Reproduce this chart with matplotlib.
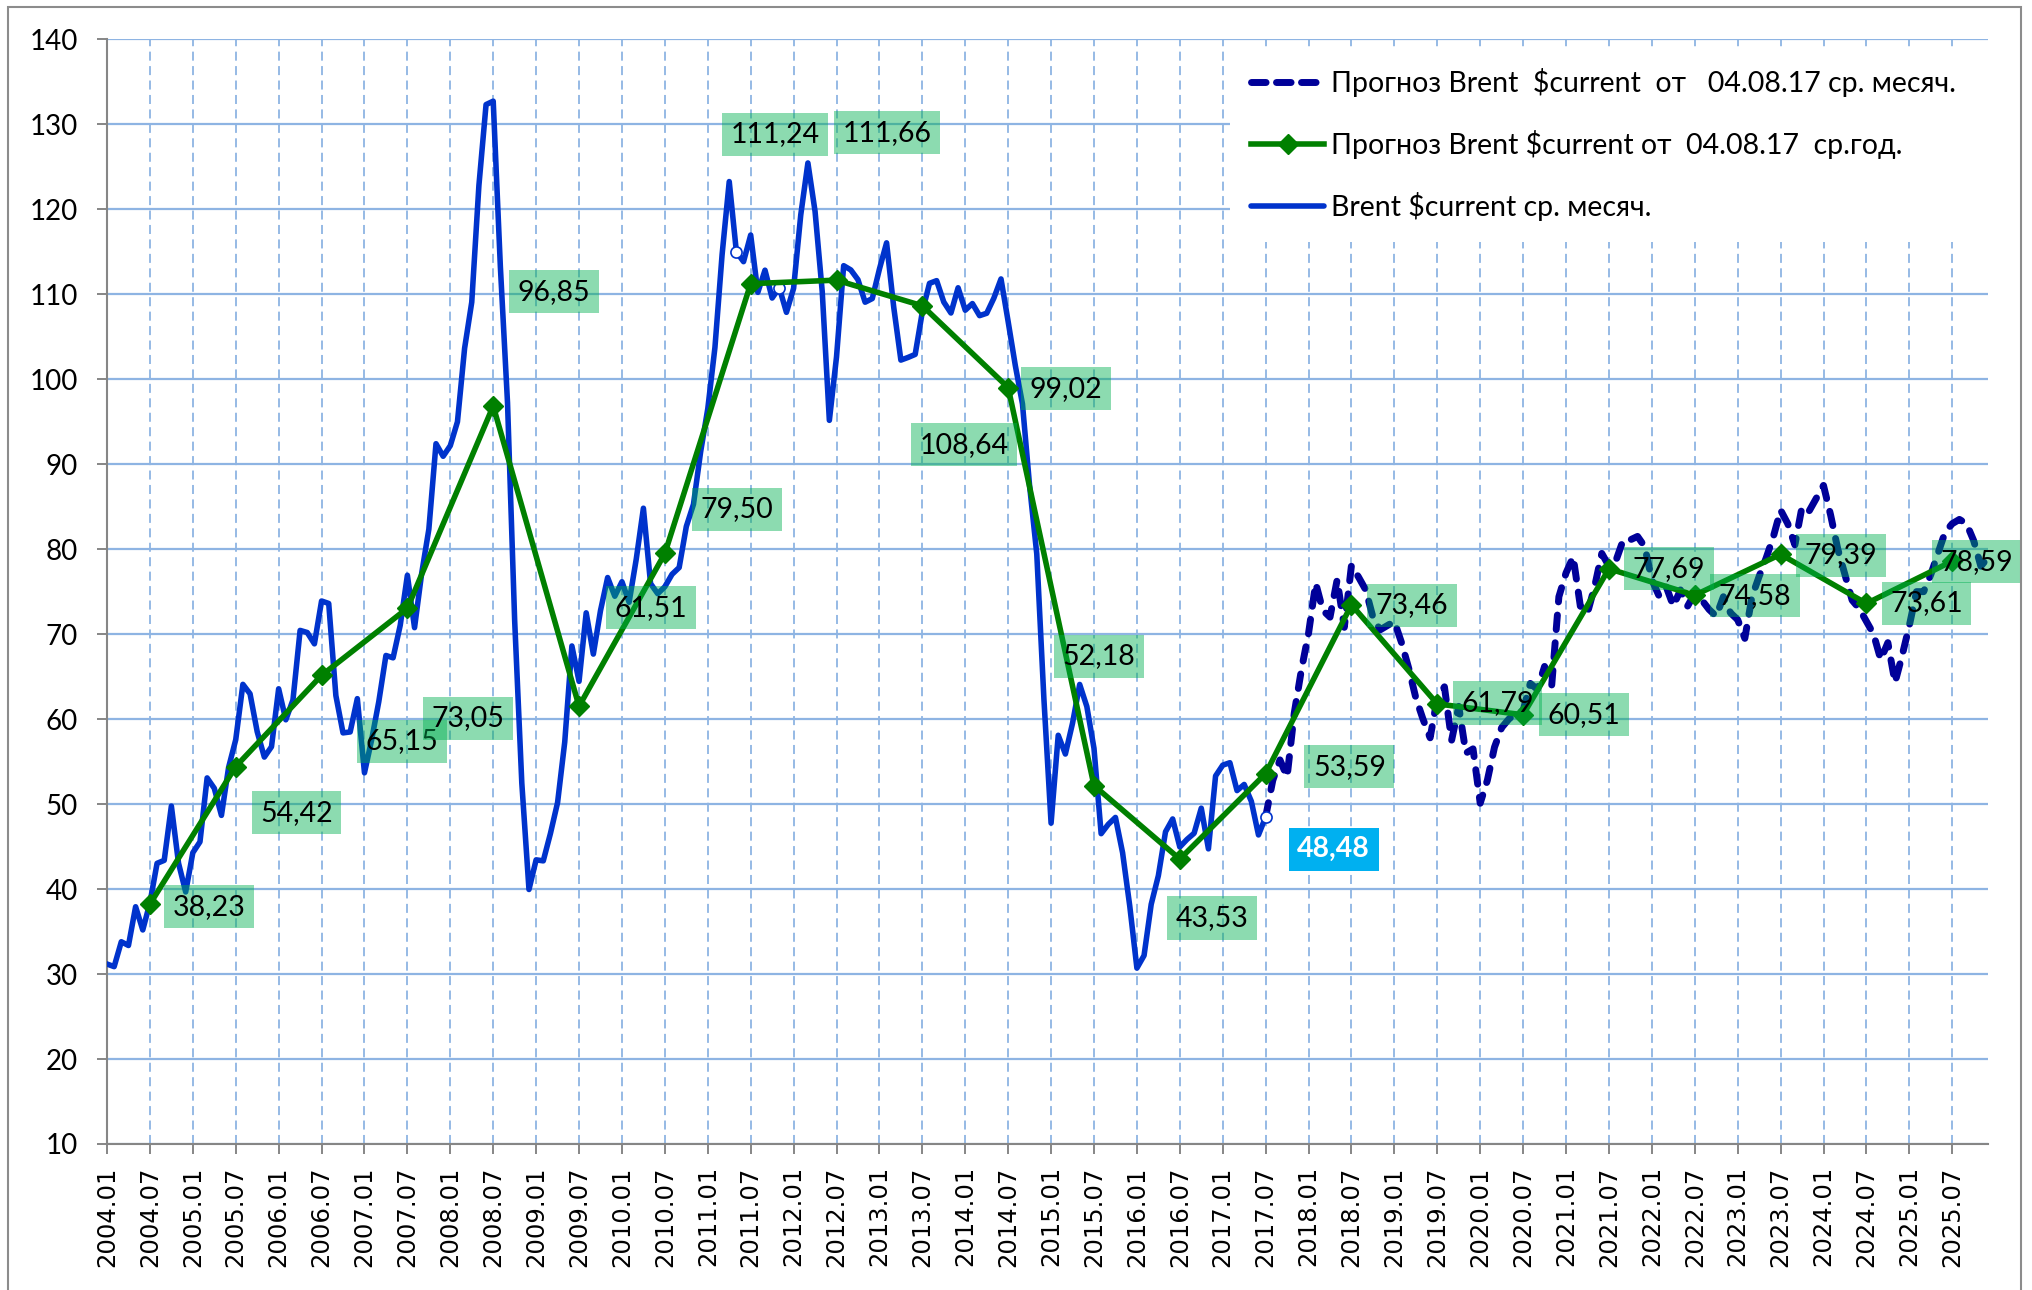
import matplotlib
matplotlib.use("Agg")
import matplotlib.pyplot as plt
from matplotlib.patches import Rectangle
from matplotlib.lines import Line2D

# ---------------- data ----------------
start_year = 2004
# Brent $current monthly average, 2004.01 .. 2017.07
brent_actual = [
    31.18, 30.87, 33.80, 33.36, 37.92, 35.19, 38.37, 43.03, 43.38, 49.77, 43.05, 39.66,
    44.28, 45.56, 53.08, 51.86, 48.67, 54.31, 57.58, 64.09, 62.98, 58.52, 55.53, 56.75,
    63.57, 59.92, 62.25, 70.44, 70.19, 68.86, 73.90, 73.61, 62.77, 58.38, 58.49, 62.41,
    53.68, 57.56, 62.05, 67.49, 67.21, 71.05, 76.93, 70.76, 77.17, 82.34, 92.41, 90.93,
    92.18, 94.99, 103.64, 109.07, 122.80, 132.32, 132.72, 113.24, 97.23, 71.58, 52.45, 39.95,
    43.44, 43.32, 46.54, 50.18, 57.30, 68.61, 64.44, 72.51, 67.65, 72.77, 76.66, 74.46,
    76.17, 73.75, 78.83, 84.82, 75.95, 74.76, 75.58, 77.04, 77.84, 82.67, 85.28, 91.45,
    96.52, 103.72, 114.64, 123.26, 114.99, 113.83, 116.97, 110.22, 112.83, 109.55, 110.77, 107.87,
    110.69, 119.33, 125.45, 119.75, 110.34, 95.16, 102.62, 113.36, 112.86, 111.71, 109.06, 109.49,
    112.96, 116.05, 108.47, 102.25, 102.56, 102.92, 107.93, 111.28, 111.60, 109.08, 107.79, 110.76,
    108.12, 108.90, 107.48, 107.76, 109.54, 111.80, 106.77, 101.61, 97.09, 87.43, 79.44, 62.34,
    47.76, 58.10, 55.89, 59.52, 64.08, 61.48, 56.56, 46.52, 47.62, 48.43, 44.27, 38.01,
    30.70, 32.18, 38.21, 41.58, 46.74, 48.25, 44.95, 45.84, 46.57, 49.52, 44.73, 53.31,
    54.58, 54.87, 51.59, 52.31, 50.33, 46.37, 48.48,
]
# Forecast monthly, 2017.07 .. 2025.12
forecast_monthly = [
    48.48, 52.8, 55.2, 53.2, 60.7, 65.8,
    70.1, 76.0, 72.8, 72.0, 76.4, 70.8, 78.1, 76.7, 75.2, 72.0, 70.5, 71.0,
    71.5, 69.0, 66.0, 62.5, 60.0, 57.8, 62.5, 63.8, 57.5, 61.5, 56.0, 56.5,
    50.1, 52.8, 56.7, 59.0, 60.0, 60.7, 61.0, 64.2, 63.5, 66.2, 64.0, 74.4,
    77.2, 79.1, 73.3, 72.5, 75.6, 79.5, 78.0, 78.7, 81.1, 81.1, 81.5, 80.3,
    76.4, 74.5, 75.6, 73.3, 75.2, 73.3, 74.8, 74.0, 72.9, 72.1, 74.4, 72.5,
    71.7, 69.5, 74.4, 76.8, 79.0, 81.5, 84.6, 83.0, 80.5, 85.0, 84.5, 86.0,
    87.5, 84.0, 80.0, 77.0, 74.0, 73.0, 71.5, 70.0, 67.0, 69.0, 64.3, 67.5,
    71.0, 75.0, 75.0, 77.0, 79.5, 82.0, 83.0, 83.5, 83.0, 81.0, 78.0, 79.0,
]
forecast_start = 2017  # starts at 2017.07
annual_years = list(range(2004, 2026))
annual_values = [38.23, 54.42, 65.15, 73.05, 96.85, 61.51, 79.50, 111.24, 111.66,
                 108.64, 99.02, 52.18, 43.53, 53.59, 73.46, 61.79, 60.51, 77.69,
                 74.58, 79.39, 73.61, 78.59]
last_actual_label = "48,48"
legend_labels = [
    "Прогноз Brent  $current  от   04.08.17 ср. месяч.",
    "Прогноз Brent $current от  04.08.17  ср.год.",
    "Brent $current ср. месяч.",
]
n_months = 264  # 2004.01 .. 2025.12
tick_labels = [f"{start_year + i // 12}.{i % 12 + 1:02d}" for i in range(0, n_months, 6)]

# ------------- layout (label centres, data coords) -------------
label_pos = [(14.3, 37.9), (26.5, 49.0), (41.2, 57.4), (50.5, 60.1), (62.5, 110.3),
             (76.1, 73.1), (88.1, 84.7), (93.4, 128.8), (109.1, 129.0), (119.8, 92.3),
             (134.1, 98.9), (138.7, 67.4), (154.5, 36.6), (173.7, 54.4), (182.5, 73.4),
             (194.4, 61.9), (206.5, 60.5), (218.4, 77.7), (230.4, 74.5), (242.4, 79.3),
             (254.4, 73.6), (261.4, 78.5)]
last_label_pos = (171.5, 44.7)

W, H = 2033, 1290
fig = plt.figure(figsize=(W / 100, H / 100), dpi=100)
ax = fig.add_axes([107 / W, 1 - 1144 / H, (1988 - 107) / W, (1144 - 39.3) / H])

BLUE = "#0033CC"
NAVY = "#000099"
GREEN = "#008000"
GRID = "#8EB4E3"
AXC = "#868686"
LABFONT = ["Lato", "DejaVu Sans"]

x_act = list(range(len(brent_actual)))
f0 = (forecast_start - start_year) * 12 + 6
x_fc = list(range(f0, f0 + len(forecast_monthly)))
x_ann = [(y - start_year) * 12 + 6 for y in annual_years]

ax.plot(x_fc, forecast_monthly, color=NAVY, lw=5.0, dashes=(2.1, 1.9),
        dash_capstyle="round", solid_capstyle="round", zorder=3)
ax.plot(x_act, brent_actual, color=BLUE, lw=4.0, solid_joinstyle="round", zorder=4)
ax.plot([x_act[88], x_act[94], x_act[-1]],
        [brent_actual[88], brent_actual[94], brent_actual[-1]],
        ls="none", marker="o", ms=8, mfc="white", mec=BLUE, mew=1.2, zorder=5)
ax.plot(x_ann, annual_values, color=GREEN, lw=4.0, marker="D", ms=10.5,
        mfc=GREEN, mec=GREEN, zorder=6)

for (lx, ly), v in zip(label_pos, annual_values):
    ax.text(lx, ly, f"{v:.2f}".replace(".", ","), ha="center", va="center",
            fontsize=20.5, family=LABFONT, color="black", zorder=8,
            bbox=dict(boxstyle="square,pad=0.3", fc=(0, 176 / 255, 80 / 255, 0.45),
                      ec="none"))
ax.text(last_label_pos[0], last_label_pos[1], last_actual_label, ha="center",
        va="center", fontsize=20.5, family=LABFONT, color="white", weight="bold",
        zorder=8, bbox=dict(boxstyle="square,pad=0.3", fc="#00B0F0", ec="none"))

ax.set_xlim(0, n_months - 1)
ax.set_ylim(10, 140)
ax.set_yticks(range(10, 141, 10))
ax.set_xticks(range(0, n_months, 6))
ax.set_xticklabels(tick_labels, rotation=90, family="DejaVu Sans", fontsize=17.5)
for t in ax.get_yticklabels():
    t.set_family(LABFONT)
    t.set_fontsize(20)
ax.tick_params(axis="x", length=7, width=1.4, color=AXC, pad=9)
ax.tick_params(axis="y", length=7, width=1.4, color=AXC, pad=14)

ax.set_axisbelow(True)
ax.xaxis.grid(True, color=GRID, lw=1.3, dashes=(5, 3))
ax.yaxis.grid(True, color=GRID, lw=1.6)
for s in ["top", "right"]:
    ax.spines[s].set_visible(False)
for s in ["left", "bottom"]:
    ax.spines[s].set_color(AXC)
    ax.spines[s].set_linewidth(1.5)
    ax.spines[s].set_zorder(2.5)

handles = [
    Line2D([], [], color=NAVY, lw=5.0, dashes=(2.1, 1.5), dash_capstyle="round"),
    Line2D([], [], color=GREEN, lw=4.0, marker="D", ms=10.5),
    Line2D([], [], color=BLUE, lw=4.0, solid_capstyle="round"),
]
leg = ax.legend(handles, legend_labels, loc="upper left", mode="expand",
                bbox_to_anchor=(1230 / W, 1 - 240 / H, (1988 - 1230) / W, (240 - 47) / H),
                bbox_transform=fig.transFigure,
                prop={"family": LABFONT, "size": 20.5}, frameon=True, fancybox=False,
                framealpha=1, facecolor="white", edgecolor="none",
                handlelength=2.55, handletextpad=0.25, labelspacing=1.15,
                borderpad=0.75, borderaxespad=0, numpoints=1)
leg.set_zorder(7)

fig.add_artist(Rectangle((8 / W, -0.01), (2021 - 8) / W, 1 - 7 / H + 0.01,
                         transform=fig.transFigure, fill=False, ec="#8C8C8C", lw=1.5))

fig.savefig("out.png", dpi=100, facecolor="white")
